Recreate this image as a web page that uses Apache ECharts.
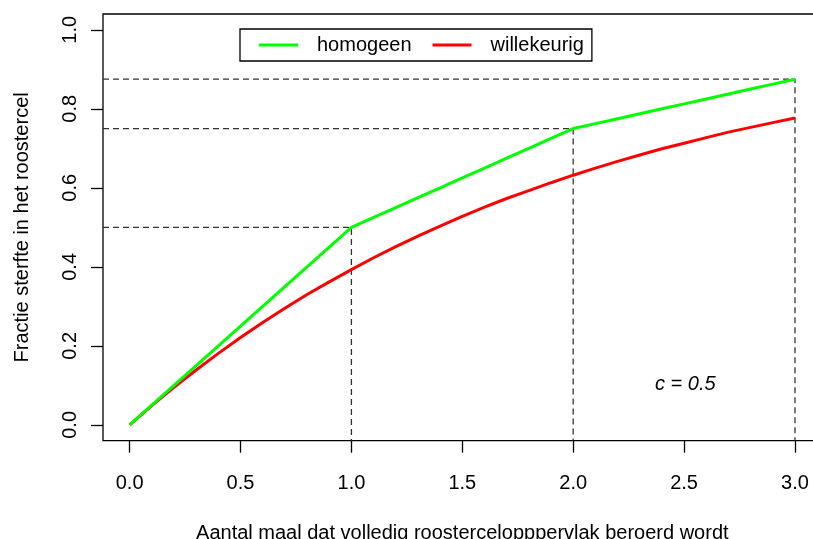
<!DOCTYPE html>
<html><head><meta charset="utf-8">
<script src="https://cdn.jsdelivr.net/npm/echarts@6/dist/echarts.min.js"></script>
<style>html,body{margin:0;padding:0;background:#fff}#c{width:813px;height:539px}</style>
</head><body><div id="c"></div>
<script>
var xValues = [0,0.1,0.2,0.3,0.4,0.5,0.6,0.7,0.8,0.9,1.0,1.1,1.2,1.3,1.4,1.5,1.6,1.7,1.8,1.9,2.0,2.1,2.2,2.3,2.4,2.5,2.6,2.7,2.8,2.9,3.0];
var homogeen = [0,0.05,0.10,0.15,0.20,0.25,0.30,0.35,0.40,0.45,0.50,0.525,0.55,0.575,0.60,0.625,0.65,0.675,0.70,0.725,0.75,0.7625,0.775,0.7875,0.80,0.8125,0.825,0.8375,0.85,0.8625,0.875];
var willekeurig = [0,0.049,0.095,0.139,0.181,0.221,0.259,0.295,0.330,0.362,0.393,0.423,0.451,0.478,0.503,0.528,0.551,0.573,0.593,0.613,0.632,0.650,0.667,0.683,0.699,0.713,0.727,0.741,0.753,0.765,0.777];
var xTicks = [0,0.5,1.0,1.5,2.0,2.5,3.0];
var yTicks = [0,0.2,0.4,0.6,0.8,1.0];
var refX = [1,2,3];
var refY = [0.5,0.75,0.875];
var xMin = -0.12, xMax = 3.12, yMin = -0.04, yMax = 1.04;

var font = 'Liberation Sans, Arial, sans-serif';
var chart = echarts.init(document.getElementById('c'));
var series = [
  {name:'homogeen', type:'line', data:xValues.map(function(x,i){return [x,homogeen[i]];}), symbol:'none', lineStyle:{color:'#00ff00', width:3}, itemStyle:{color:'#00ff00'}, z:5, animation:false},
  {name:'willekeurig', type:'line', data:xValues.map(function(x,i){return [x,willekeurig[i]];}), symbol:'none', lineStyle:{color:'#ff0000', width:3}, itemStyle:{color:'#ff0000'}, z:4, animation:false}
];
refX.forEach(function(rx,i){
  series.push({type:'line', data:[[xMin,refY[i]],[rx,refY[i]],[rx,yMin]], symbol:'none', silent:true,
    lineStyle:{color:'#333', width:1.3, type:[6,4]}, z:2, animation:false});
});
chart.setOption({
  animation:false,
  backgroundColor:'#fff',
  grid:{left:103, top:14, width:718.6, height:426.7, outerBoundsMode:'none', containLabel:false, show:true, borderColor:'#000', borderWidth:1.3, backgroundColor:'transparent'},
  xAxis:{type:'value', min:xMin, max:xMax,
    name:'Aantal maal dat volledig roostercelopppervlak beroerd wordt', nameLocation:'middle', nameGap:83,
    nameTextStyle:{fontFamily:font, fontSize:20, color:'#000'},
    axisLine:{show:false, onZero:false}, splitLine:{show:false},
    axisTick:{show:true, length:12, customValues:xTicks, lineStyle:{color:'#000', width:1.3}},
    axisLabel:{customValues:xTicks, margin:33, fontFamily:font, fontSize:20, color:'#000', formatter:function(v){return v.toFixed(1);}}},
  yAxis:{type:'value', min:yMin, max:yMax,
    name:'Fractie sterfte in het roostercel', nameLocation:'middle', nameGap:71,
    nameTextStyle:{fontFamily:font, fontSize:20, color:'#000'},
    axisLine:{show:false, onZero:false}, splitLine:{show:false},
    axisTick:{show:true, length:12, customValues:yTicks, lineStyle:{color:'#000', width:1.3}},
    axisLabel:{customValues:yTicks, rotate:90, margin:23, fontFamily:font, fontSize:20, color:'#000', formatter:function(v){return v.toFixed(1);}}},
  legend:{data:[{name:'homogeen', icon:'rect'},{name:'willekeurig', icon:'rect'}], left:240, top:29, orient:'horizontal',
    padding:[6,8,6,19], itemWidth:39, itemHeight:3, itemGap:21,
    borderColor:'#000', borderWidth:1.3, backgroundColor:'#fff',
    textStyle:{fontFamily:font, fontSize:20, color:'#000', padding:[0,0,0,14]}},
  graphic:[{type:'text', left:655, top:374, style:{text:'c = 0.5', fontFamily:font, fontSize:20, fontStyle:'italic', fill:'#000'}}],
  series:series
});
</script></body></html>
